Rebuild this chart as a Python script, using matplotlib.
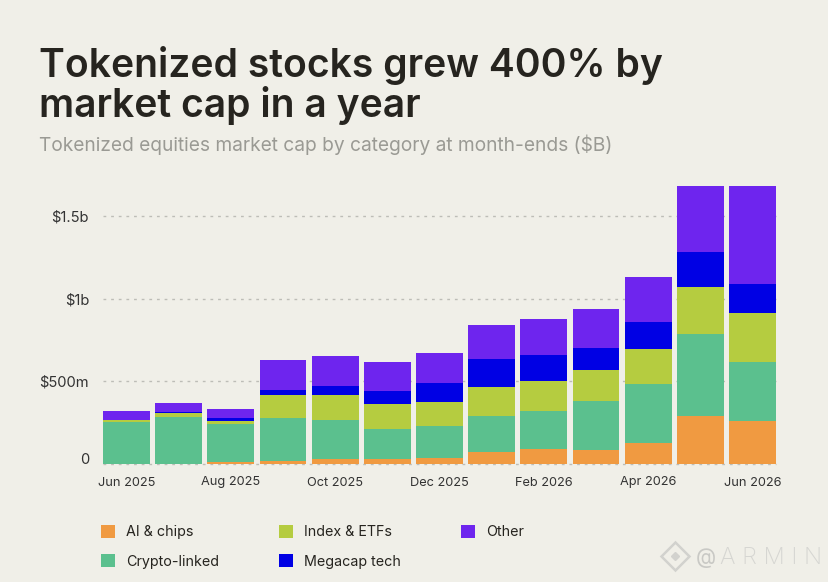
import matplotlib
matplotlib.use("Agg")
import matplotlib.pyplot as plt
from matplotlib.lines import Line2D
from matplotlib.transforms import ScaledTranslation
import numpy as np

months = ["Jun 2025", "Jul 2025", "Aug 2025", "Sep 2025", "Oct 2025", "Nov 2025", "Dec 2025",
          "Jan 2026", "Feb 2026", "Mar 2026", "Apr 2026", "May 2026", "Jun 2026"]

# $m
ai_chips = [3, 3, 14, 18, 30, 28, 34, 71, 93, 85, 125, 289, 258]
crypto_linked = [254, 283, 228, 260, 234, 183, 194, 221, 230, 295, 357, 496, 361]
index_etfs = [9, 20, 16, 141, 155, 151, 147, 175, 182, 188, 215, 286, 295]
megacap_tech = [3, 10, 18, 28, 51, 79, 115, 169, 154, 133, 163, 210, 175]
other = [51, 54, 58, 181, 183, 175, 183, 202, 218, 238, 272, 399, 591]

series = [("AI & chips", ai_chips, "#F09A41"),
          ("Crypto-linked", crypto_linked, "#5BC08E"),
          ("Index & ETFs", index_etfs, "#B5CC40"),
          ("Megacap tech", megacap_tech, "#0000E4"),
          ("Other", other, "#6E25EE")]

y_ticks = [0, 500, 1000, 1500]
y_labels = ["0", "$500m", "$1b", "$1.5b"]

bg = "#F0EFE8"
W, H = 829, 582
plt.rcParams["font.family"] = ["Inter", "DejaVu Sans"]

fig = plt.figure(figsize=(W / 100, H / 100), dpi=100, facecolor=bg)
ax = fig.add_axes([103 / W, 1 - 464 / H, (776 - 103) / W, (464 - 186) / H], facecolor=bg)

x = np.arange(len(months))
bottom = np.zeros(len(months))
for name, vals, col in series:
    ax.bar(x, vals, width=0.896, bottom=bottom, color=col, label=name, zorder=3)
    bottom += np.array(vals)

ax.set_xlim(-0.448, 12.448)
ax.set_ylim(0, 1682)
for s in ax.spines.values():
    s.set_visible(False)
ax.set_yticks(y_ticks, y_labels)
ax.set_xticks(x[::2], months[::2])
ax.tick_params(length=0, labelcolor="#333333")
ax.tick_params(axis="y", pad=10, labelsize=10.6)
ax.tick_params(axis="x", pad=9, labelsize=9.2)
ax.grid(axis="y", color="#BDBDB7", linestyle=(0, (2, 3.5)), linewidth=1, zorder=1, clip_on=False)

# the 0 label sits a little above its line
zero = ax.get_yticklabels()[0]
zero.set_transform(zero.get_transform() + ScaledTranslation(0, 6 / 100, fig.dpi_scale_trans))

fig.text(39 / W, 1 - 77 / H, "Tokenized stocks grew 400% by", fontsize=28.1, fontweight="semibold", color="#26241F")
fig.text(39 / W, 1 - 117 / H, "market cap in a year", fontsize=28.1, fontweight="semibold", color="#26241F")
fig.text(39 / W, 1 - 151 / H, "Tokenized equities market cap by category at month-ends ($B)",
         fontsize=13.8, color="#9A9A94")

handles, labels = ax.get_legend_handles_labels()
fig.legend(handles, labels, ncol=3, loc="upper left", bbox_to_anchor=(101 / W, 1 - 525 / H),
           frameon=False, fontsize=10.3, handlelength=0.95, handleheight=1, handletextpad=0.8,
           columnspacing=4.2, labelspacing=1.05, borderpad=0, borderaxespad=0, labelcolor="#26241F")

# watermark
fig.add_artist(Line2D([675 / W], [1 - 556 / H], marker="D", markersize=14, markerfacecolor="none",
                      markeredgecolor="#D2D2CE", markeredgewidth=1.8, transform=fig.transFigure))
fig.add_artist(Line2D([675 / W], [1 - 556 / H], marker="D", markersize=4, color="#D2D2CE",
                      transform=fig.transFigure))
fig.text(696 / W, 1 - 564 / H, "@", fontsize=15, color="#C9C9C5")
fig.text(720 / W, 1 - 564 / H, "A R M I N", fontsize=17, color="#D6D6D2", fontweight="light")

fig.savefig("out.png", dpi=100, facecolor=bg)
